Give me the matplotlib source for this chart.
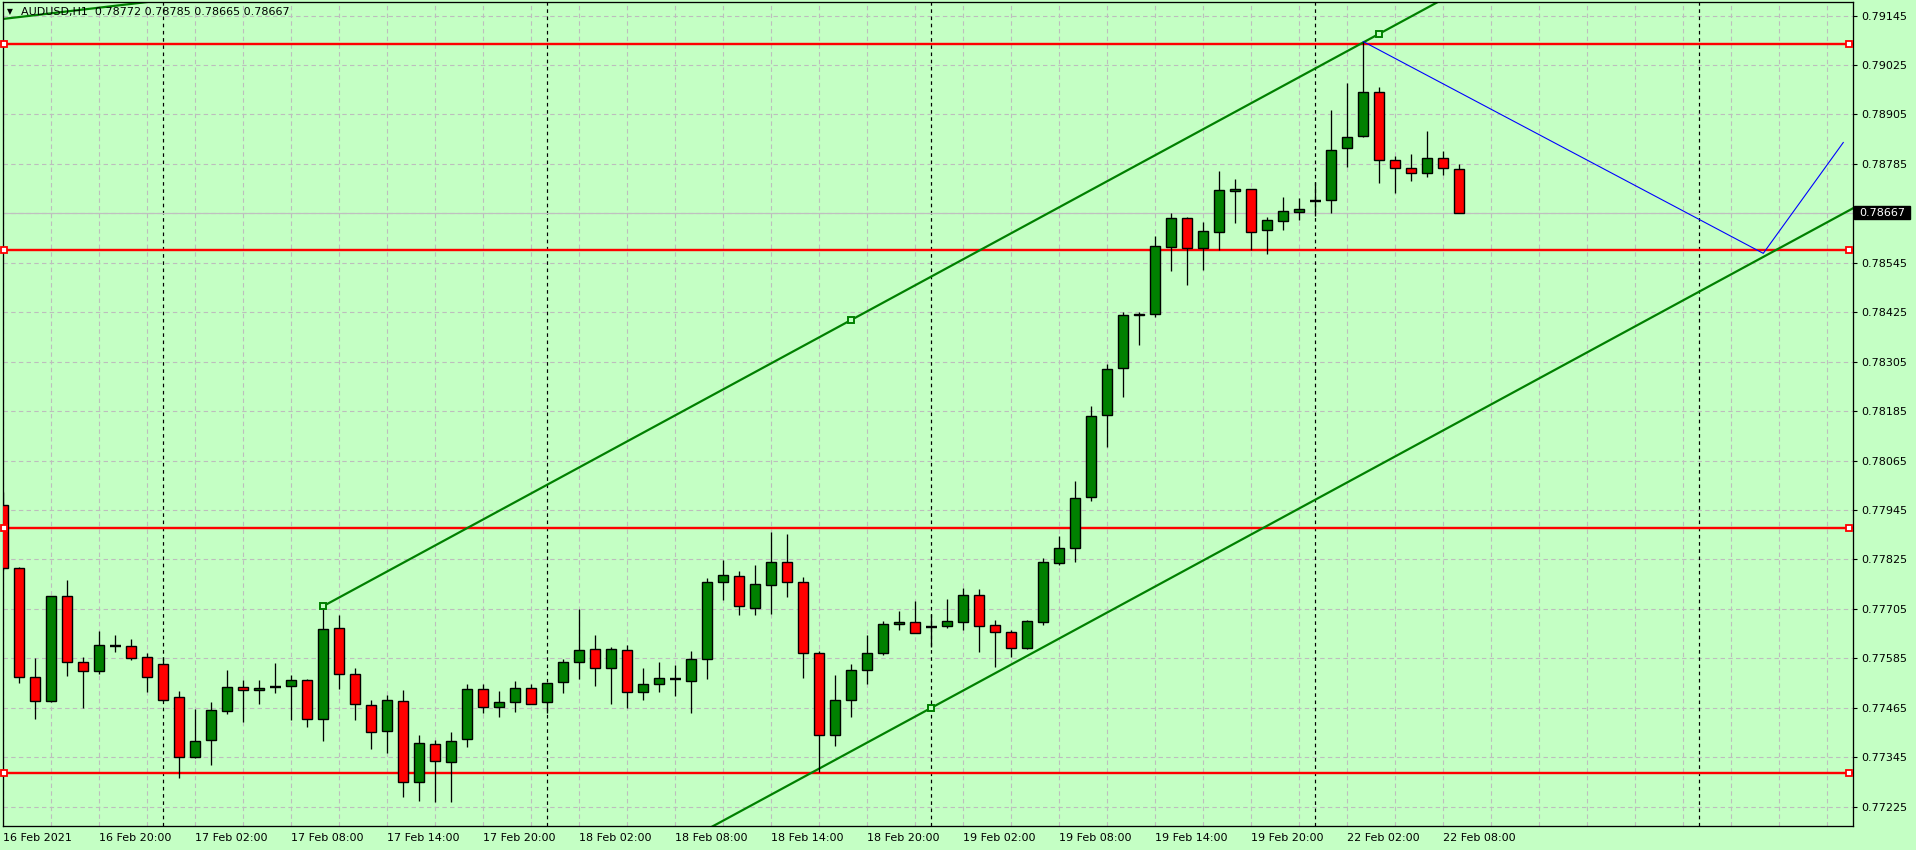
import matplotlib
matplotlib.use("Agg")
import matplotlib.pyplot as plt
from matplotlib.patches import Rectangle
import numpy as np

# ---------------- data ----------------
symbol = "AUDUSD,H1"
last_ohlc = [0.78772, 0.78785, 0.78665, 0.78667]

opens = [0.77957, 0.77804, 0.77541, 0.77481, 0.77736, 0.77576, 0.77554, 0.77616, 0.77614, 0.77588,
         0.77571, 0.77491, 0.77345, 0.77386, 0.77457, 0.77516, 0.77508, 0.77515, 0.77517, 0.77532,
         0.77437, 0.77658, 0.77546, 0.77471, 0.77408, 0.77481, 0.77284, 0.77376, 0.77333, 0.77389,
         0.77510, 0.77466, 0.77478, 0.77512, 0.77478, 0.77527, 0.77576, 0.77607, 0.77561, 0.77605,
         0.77503, 0.77522, 0.77535, 0.77531, 0.77583, 0.77770, 0.77784, 0.77708, 0.77762, 0.77818,
         0.77770, 0.77597, 0.77398, 0.77483, 0.77556, 0.77597, 0.77668, 0.77673, 0.77662, 0.77663,
         0.77674, 0.77739, 0.77666, 0.77648, 0.77609, 0.77674, 0.77816, 0.77852, 0.77976, 0.78175,
         0.78289, 0.78419, 0.78420, 0.78584, 0.78653, 0.78582, 0.78619, 0.78719, 0.78723, 0.78624,
         0.78646, 0.78668, 0.78695, 0.78697, 0.78823, 0.78852, 0.78959, 0.78794, 0.78774, 0.78762,
         0.78799, 0.78772]
highs = [0.77990, 0.77808, 0.77585, 0.77737, 0.77775, 0.77588, 0.77651, 0.77642, 0.77631, 0.77599,
         0.77589, 0.77506, 0.77462, 0.77478, 0.77558, 0.77532, 0.77532, 0.77573, 0.77544, 0.77534,
         0.77712, 0.77690, 0.77562, 0.77484, 0.77496, 0.77508, 0.77399, 0.77387, 0.77406, 0.77524,
         0.77524, 0.77505, 0.77529, 0.77522, 0.77525, 0.77583, 0.77705, 0.77641, 0.77612, 0.77617,
         0.77561, 0.77576, 0.77568, 0.77602, 0.77779, 0.77823, 0.77796, 0.77811, 0.77891, 0.77886,
         0.77782, 0.77604, 0.77544, 0.77571, 0.77641, 0.77675, 0.77699, 0.77724, 0.77692, 0.77729,
         0.77756, 0.77753, 0.77678, 0.77654, 0.77678, 0.77828, 0.77882, 0.78016, 0.78198, 0.78300,
         0.78426, 0.78425, 0.78610, 0.78667, 0.78656, 0.78644, 0.78768, 0.78748, 0.78723, 0.78656,
         0.78705, 0.78702, 0.78740, 0.78915, 0.78981, 0.79082, 0.78971, 0.78804, 0.78808, 0.78865,
         0.78816, 0.78785]
lows = [0.77800, 0.77526, 0.77439, 0.77479, 0.77543, 0.77465, 0.77548, 0.77601, 0.77582, 0.77504,
        0.77482, 0.77294, 0.77343, 0.77327, 0.77451, 0.77431, 0.77475, 0.77502, 0.77436, 0.77419,
        0.77385, 0.77511, 0.77436, 0.77366, 0.77356, 0.77249, 0.77240, 0.77236, 0.77237, 0.77369,
        0.77452, 0.77443, 0.77456, 0.77474, 0.77452, 0.77502, 0.77536, 0.77519, 0.77475, 0.77465,
        0.77485, 0.77504, 0.77494, 0.77453, 0.77536, 0.77727, 0.77691, 0.77691, 0.77693, 0.77735,
        0.77538, 0.77310, 0.77373, 0.77443, 0.77524, 0.77592, 0.77655, 0.77646, 0.77613, 0.77658,
        0.77654, 0.77601, 0.77565, 0.77588, 0.77608, 0.77666, 0.77812, 0.77820, 0.77968, 0.78099,
        0.78220, 0.78346, 0.78414, 0.78526, 0.78490, 0.78528, 0.78576, 0.78642, 0.78576, 0.78566,
        0.78625, 0.78649, 0.78659, 0.78667, 0.78778, 0.78850, 0.78739, 0.78715, 0.78744, 0.78754,
        0.78759, 0.78665]
closes = [0.77804, 0.77541, 0.77481, 0.77736, 0.77576, 0.77554, 0.77617, 0.77616, 0.77587, 0.77539,
          0.77485, 0.77345, 0.77384, 0.77459, 0.77516, 0.77508, 0.77514, 0.77515, 0.77532, 0.77437,
          0.77656, 0.77546, 0.77474, 0.77406, 0.77484, 0.77284, 0.77379, 0.77335, 0.77384, 0.77510,
          0.77466, 0.77478, 0.77512, 0.77474, 0.77525, 0.77576, 0.77605, 0.77561, 0.77607, 0.77504,
          0.77522, 0.77537, 0.77535, 0.77583, 0.77770, 0.77787, 0.77711, 0.77765, 0.77818, 0.77770,
          0.77597, 0.77398, 0.77483, 0.77556, 0.77597, 0.77668, 0.77673, 0.77646, 0.77662, 0.77675,
          0.77738, 0.77664, 0.77650, 0.77611, 0.77675, 0.77818, 0.77852, 0.77974, 0.78173, 0.78287,
          0.78418, 0.78420, 0.78585, 0.78653, 0.78580, 0.78622, 0.78721, 0.78723, 0.78621, 0.78648,
          0.78671, 0.78676, 0.78695, 0.78820, 0.78851, 0.78959, 0.78794, 0.78774, 0.78762, 0.78799,
          0.78775, 0.78667]

x_tick_idx = [0, 6, 12, 18, 24, 30, 36, 42, 48, 54, 60, 66, 72, 78, 84, 90]
x_tick_labels = ["16 Feb 2021", "16 Feb 20:00", "17 Feb 02:00", "17 Feb 08:00", "17 Feb 14:00",
                 "17 Feb 20:00", "18 Feb 02:00", "18 Feb 08:00", "18 Feb 14:00", "18 Feb 20:00",
                 "19 Feb 02:00", "19 Feb 08:00", "19 Feb 14:00", "19 Feb 20:00", "22 Feb 02:00",
                 "22 Feb 08:00"]
day_sep_idx = [10, 34, 58, 82, 106]
price_ticks = [0.77225, 0.77345, 0.77465, 0.77585, 0.77705, 0.77825, 0.77945, 0.78065, 0.78185,
               0.78305, 0.78425, 0.78545, 0.78665, 0.78785, 0.78905, 0.79025, 0.79145]

red_levels = [0.79077, 0.78575, 0.77902, 0.77308]
channel_k = [20, 86, 58]          # anchor 1, anchor 2, parallel anchor
channel_p = [0.77712, 0.79101, 0.77465]
channel_mid_k = 53
blue_k = [85, 110, 115]
blue_p = [0.79082, 0.78568, 0.78837]
old_line_k = [0, 9]
old_line_p = [0.79137, 0.79178]

# ---------------- style ----------------
BG = "#C4FFC4"
GRID = "#BDBDBD"
BULL = "#008000"
BEAR = "#FF0000"
LINE_GREEN = "#008000"
PX = 0.72  # one pixel in points

plt.rcParams["font.family"] = ["DejaVu Sans"]

W, H = 1916, 850
AX_W = 1850
fig = plt.figure(figsize=(W / 100, H / 100), dpi=100, facecolor=BG)
ax = fig.add_axes([2.7 / W, 1 - 826 / H, AX_W / W, 823.7 / H], facecolor=BG)
ax.set_xlim(-0.04, 115.59)
ax.set_ylim(0.771782, 0.791773)

for s in ax.spines.values():
    s.set_color("black")
    s.set_linewidth(PX * 1.3)

# ticks & grid
ax.set_xticks(np.arange(0, 116, 3), minor=True)
ax.set_xticks(x_tick_idx)
ax.set_xticklabels(x_tick_labels, ha="left", fontsize=8)
ax.tick_params(axis="x", which="both", length=0, pad=5)
ax.set_yticks(price_ticks)
last_price = closes[-1]
ax.set_yticklabels(["" if abs(p - last_price) < 0.0002 else f"{p:.5f}" for p in price_ticks],
                   fontsize=8)
ax.yaxis.tick_right()
ax.tick_params(axis="y", length=3, width=0.8, pad=3, direction="out")
ax.grid(which="both", axis="x", color=GRID, linestyle=(0, (4, 3)), linewidth=PX * 1.1, zorder=0)
ax.grid(which="major", axis="y", color=GRID, linestyle=(0, (4, 3)), linewidth=PX * 1.1, zorder=0)
ax.set_axisbelow(True)

# day separators
for d in day_sep_idx:
    ax.axvline(d, color="black", linestyle=(0, (3, 3)), linewidth=PX * 1.2, zorder=1)

# horizontal red levels
for lv in red_levels:
    ax.axhline(lv, color=BEAR, linewidth=PX * 2.4, zorder=2)
    ax.plot([0.05, 115.35], [lv, lv], linestyle="none", marker="s", markersize=4.2,
            markerfacecolor="white", markeredgecolor=BEAR, markeredgewidth=1.3,
            zorder=6, clip_on=False)

# bid line
ax.axhline(last_price, color="#C0C0C0", linewidth=PX * 1.2, zorder=1.5)

# channel
slope = (channel_p[1] - channel_p[0]) / (channel_k[1] - channel_k[0])
kk = np.array([channel_k[0], 116.0])
upper = channel_p[0] + slope * (kk - channel_k[0])
offset = channel_p[2] - (channel_p[0] + slope * (channel_k[2] - channel_k[0]))
ax.plot(kk, upper, color=LINE_GREEN, linewidth=PX * 2.2, zorder=2.5)
ax.plot(kk, upper + offset, color=LINE_GREEN, linewidth=PX * 2.2, zorder=2.5)
mid_p = channel_p[0] + slope * (channel_mid_k - channel_k[0])
ax.plot([channel_k[0], channel_k[1], channel_k[2], channel_mid_k],
        [channel_p[0], channel_p[1], channel_p[2], mid_p],
        linestyle="none", marker="s", markersize=4.6, markerfacecolor=BG,
        markeredgecolor=LINE_GREEN, markeredgewidth=1.4, zorder=6)

# older trend line at top-left
s2 = (old_line_p[1] - old_line_p[0]) / (old_line_k[1] - old_line_k[0])
k2 = np.array([-1.0, 14.0])
ax.plot(k2, old_line_p[0] + s2 * (k2 - old_line_k[0]), color=LINE_GREEN,
        linewidth=PX * 2.2, zorder=2.5)

# blue zigzag
ax.plot(blue_k, blue_p, color="#0000FF", linewidth=PX * 1.1, zorder=2.5)

# candles
o = np.array(opens); h = np.array(highs); l = np.array(lows); c = np.array(closes)
x = np.arange(len(o))
ax.vlines(x, l, h, color="black", linewidth=PX * 1.3, zorder=3)
body_lo = np.minimum(o, c)
body_h = np.abs(c - o)
cols = np.where(c > o, BULL, BEAR)
nz = body_h > 0
ax.bar(x[nz], body_h[nz], bottom=body_lo[nz], width=0.64, color=cols[nz],
       edgecolor="black", linewidth=PX * 1.4, zorder=4)
dj = ~nz
ax.hlines(c[dj], x[dj] - 0.33, x[dj] + 0.33, color="black", linewidth=PX * 2.4, zorder=4)

# current price label (black box on the price scale)
ytr = ax.get_yaxis_transform()
box_h = (ax.get_ylim()[1] - ax.get_ylim()[0]) * 12.5 / 823.7
ax.add_patch(Rectangle((1.0 + 1.5 / AX_W, last_price - box_h / 2), 56 / AX_W, box_h,
                       transform=ytr, facecolor="black", edgecolor="black",
                       clip_on=False, zorder=9))
ax.text(1.0 + 6.5 / AX_W, last_price, f"{last_price:.5f}", transform=ytr,
        ha="left", va="center", fontsize=8, color="white", zorder=10, clip_on=False)

# title
fig.text(7 / W, 1 - 12 / H, "\u25BC", fontsize=5.5, ha="left", va="center", color="black")
fig.text(21 / W, 1 - 12 / H,
         f"{symbol}  {last_ohlc[0]:.5f} {last_ohlc[1]:.5f} {last_ohlc[2]:.5f} {last_ohlc[3]:.5f}",
         fontsize=8, ha="left", va="center", color="black")

fig.savefig("out.png", dpi=100, facecolor=BG)
